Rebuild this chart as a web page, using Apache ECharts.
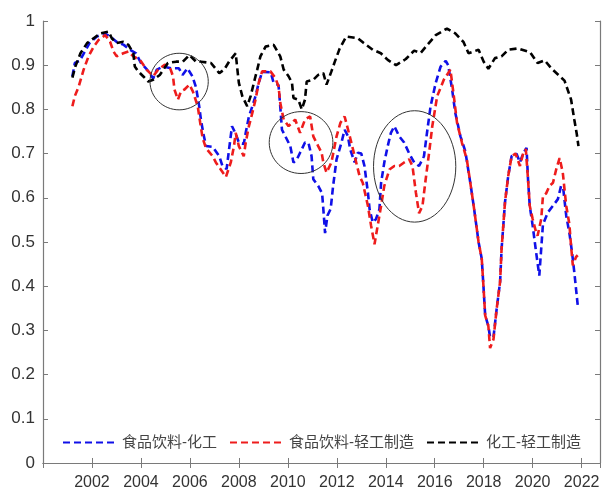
<!DOCTYPE html>
<html>
<head>
<meta charset="utf-8">
<script src="https://cdn.jsdelivr.net/npm/echarts@6/dist/echarts.min.js"></script>
<style>
  html, body { margin: 0; padding: 0; background: #fff; }
  #chart { width: 603px; height: 491px; }
</style>
</head>
<body>
<div id="chart"></div>
<script>
// 食品饮料-化工
const foodChem = [
  [2001.2,0.875],[2001.3,0.905],[2001.5,0.91],[2001.7,0.93],[2001.9,0.95],[2002.2,0.965],[2002.5,0.972],
  [2002.75,0.965],[2003.0,0.953],[2003.3,0.946],[2003.55,0.935],[2003.8,0.927],[2004.0,0.905],[2004.25,0.89],
  [2004.5,0.87],[2004.65,0.89],[2004.9,0.897],[2005.25,0.893],[2005.55,0.893],[2005.7,0.878],[2005.9,0.893],
  [2006.1,0.875],[2006.25,0.85],[2006.38,0.807],[2006.45,0.777],[2006.55,0.745],[2006.66,0.717],[2006.93,0.715],
  [2007.2,0.694],[2007.33,0.672],[2007.5,0.665],[2007.6,0.71],[2007.72,0.762],[2007.87,0.745],[2008.0,0.725],
  [2008.2,0.722],[2008.28,0.747],[2008.41,0.784],[2008.55,0.807],[2008.68,0.83],[2008.81,0.86],[2008.95,0.885],
  [2009.3,0.884],[2009.42,0.86],[2009.62,0.855],[2009.69,0.807],[2009.76,0.754],[2009.9,0.739],[2010.1,0.717],
  [2010.23,0.68],[2010.37,0.687],[2010.5,0.702],[2010.7,0.725],[2010.84,0.725],[2010.97,0.694],[2011.04,0.642],
  [2011.24,0.627],[2011.4,0.61],[2011.47,0.56],[2011.52,0.52],[2011.62,0.56],[2011.75,0.575],[2011.85,0.627],
  [2011.99,0.687],[2012.19,0.725],[2012.32,0.754],[2012.45,0.74],[2012.55,0.709],[2012.73,0.68],[2012.86,0.702],
  [2013.0,0.70],[2013.13,0.672],[2013.27,0.612],[2013.34,0.574],[2013.47,0.544],[2013.6,0.552],[2013.74,0.574],
  [2013.81,0.634],[2013.94,0.68],[2014.08,0.717],[2014.21,0.747],[2014.35,0.762],[2014.55,0.739],[2014.75,0.725],
  [2014.96,0.70],[2015.16,0.68],[2015.36,0.672],[2015.56,0.694],[2015.7,0.754],[2015.83,0.807],[2016.04,0.86],
  [2016.24,0.897],[2016.45,0.91],[2016.55,0.9],[2016.71,0.845],[2016.84,0.792],[2017.05,0.739],[2017.25,0.705],
  [2017.45,0.635],[2017.59,0.582],[2017.72,0.529],[2017.79,0.50],[2017.92,0.462],[2017.99,0.40],[2018.06,0.334],
  [2018.19,0.31],[2018.26,0.285],[2018.4,0.285],[2018.53,0.349],[2018.67,0.41],[2018.73,0.484],[2018.87,0.59],
  [2019.0,0.649],[2019.14,0.694],[2019.34,0.70],[2019.48,0.68],[2019.61,0.70],[2019.75,0.713],[2019.81,0.642],
  [2019.88,0.582],[2020.0,0.537],[2020.14,0.477],[2020.27,0.424],[2020.42,0.54],[2020.62,0.567],[2020.83,0.582],
  [2021.03,0.597],[2021.16,0.627],[2021.25,0.62],[2021.37,0.56],[2021.5,0.52],[2021.6,0.48],[2021.7,0.432],
  [2021.84,0.357]
];

// 食品饮料-轻工制造
const foodLight = [
  [2001.2,0.807],[2001.3,0.83],[2001.46,0.852],[2001.66,0.89],[2001.86,0.92],[2002.07,0.942],[2002.27,0.957],
  [2002.54,0.968],[2002.74,0.953],[2002.88,0.931],[2003.01,0.92],[2003.28,0.927],[2003.49,0.931],[2003.69,0.92],
  [2003.96,0.912],[2004.23,0.89],[2004.5,0.875],[2004.7,0.89],[2004.97,0.901],[2005.17,0.897],[2005.31,0.875],
  [2005.37,0.845],[2005.51,0.822],[2005.64,0.841],[2005.78,0.845],[2005.98,0.856],[2006.12,0.841],[2006.32,0.807],
  [2006.42,0.77],[2006.52,0.735],[2006.66,0.712],[2006.93,0.694],[2007.06,0.68],[2007.26,0.664],[2007.47,0.647],
  [2007.67,0.68],[2007.8,0.717],[2007.87,0.747],[2008.0,0.717],[2008.2,0.694],[2008.28,0.725],[2008.41,0.762],
  [2008.55,0.792],[2008.68,0.822],[2008.81,0.86],[2008.95,0.886],[2009.29,0.886],[2009.49,0.871],[2009.62,0.852],
  [2009.69,0.815],[2009.83,0.777],[2010.03,0.762],[2010.17,0.77],[2010.3,0.777],[2010.5,0.747],[2010.7,0.777],
  [2010.91,0.784],[2011.04,0.739],[2011.24,0.717],[2011.38,0.702],[2011.45,0.68],[2011.58,0.657],[2011.78,0.68],
  [2011.99,0.739],[2012.15,0.77],[2012.32,0.784],[2012.53,0.739],[2012.73,0.694],[2012.93,0.649],[2013.06,0.634],
  [2013.27,0.582],[2013.4,0.537],[2013.54,0.495],[2013.67,0.537],[2013.81,0.582],[2013.94,0.627],[2014.15,0.664],
  [2014.35,0.672],[2014.55,0.672],[2014.75,0.68],[2014.96,0.687],[2015.09,0.672],[2015.23,0.612],[2015.36,0.565],
  [2015.5,0.582],[2015.63,0.642],[2015.77,0.702],[2015.9,0.762],[2016.1,0.83],[2016.37,0.867],[2016.64,0.89],
  [2016.78,0.83],[2016.91,0.77],[2017.11,0.725],[2017.31,0.687],[2017.45,0.635],[2017.59,0.582],[2017.72,0.529],
  [2017.79,0.50],[2017.92,0.462],[2017.99,0.40],[2018.06,0.334],[2018.19,0.31],[2018.26,0.26],[2018.4,0.28],
  [2018.53,0.349],[2018.67,0.41],[2018.73,0.484],[2018.87,0.59],[2019.0,0.649],[2019.14,0.694],[2019.3,0.70],
  [2019.48,0.672],[2019.61,0.70],[2019.72,0.71],[2019.81,0.642],[2019.88,0.582],[2020.0,0.552],[2020.14,0.522],
  [2020.2,0.514],[2020.35,0.552],[2020.42,0.604],[2020.55,0.61],[2020.69,0.627],[2020.83,0.634],[2020.96,0.664],
  [2021.1,0.69],[2021.23,0.657],[2021.37,0.582],[2021.5,0.54],[2021.57,0.49],[2021.64,0.447],[2021.77,0.466],
  [2021.84,0.47]
];

// 化工-轻工制造
const chemLight = [
  [2001.2,0.872],[2001.32,0.897],[2001.53,0.927],[2001.8,0.95],[2002.07,0.961],[2002.34,0.972],[2002.68,0.976],
  [2002.81,0.961],[2003.01,0.95],[2003.28,0.953],[2003.49,0.946],[2003.69,0.927],[2003.75,0.897],[2003.89,0.886],
  [2004.09,0.875],[2004.3,0.863],[2004.5,0.867],[2004.77,0.878],[2005.1,0.905],[2005.44,0.908],[2005.71,0.908],
  [2005.98,0.923],[2006.25,0.908],[2006.45,0.908],[2006.86,0.905],[2007.2,0.882],[2007.4,0.89],[2007.6,0.908],
  [2007.87,0.927],[2007.94,0.89],[2008.0,0.86],[2008.14,0.83],[2008.34,0.807],[2008.48,0.83],[2008.68,0.875],
  [2008.75,0.89],[2008.88,0.92],[2009.09,0.942],[2009.42,0.946],[2009.69,0.92],[2009.83,0.89],[2010.03,0.875],
  [2010.17,0.86],[2010.23,0.826],[2010.43,0.822],[2010.57,0.80],[2010.7,0.822],[2010.77,0.863],[2011.04,0.867],
  [2011.24,0.878],[2011.45,0.882],[2011.58,0.856],[2011.78,0.886],[2011.92,0.908],[2012.12,0.938],[2012.39,0.965],
  [2012.86,0.961],[2013.1,0.95],[2013.47,0.935],[2013.8,0.927],[2014.08,0.912],[2014.42,0.90],[2014.82,0.914],
  [2015.16,0.933],[2015.43,0.928],[2015.7,0.946],[2016.04,0.968],[2016.5,0.983],[2016.84,0.972],[2017.18,0.952],
  [2017.38,0.927],[2017.79,0.935],[2018.0,0.908],[2018.19,0.892],[2018.46,0.916],[2018.73,0.92],[2019.0,0.935],
  [2019.4,0.938],[2019.9,0.929],[2020.2,0.905],[2020.49,0.911],[2020.76,0.893],[2021.3,0.865],[2021.57,0.822],
  [2021.7,0.777],[2021.8,0.745],[2021.87,0.717]
];

const seriesNames = ["食品饮料-化工", "食品饮料-轻工制造", "化工-轻工制造"];
const yTicks = [0, 0.1, 0.2, 0.3, 0.4, 0.5, 0.6, 0.7, 0.8, 0.9, 1];

// highlighted regions: [centre year, centre value, half-width in years, half-height in value]
const marks = [
  [2005.56, 0.863, 1.19, 0.064],
  [2010.54, 0.725, 1.30, 0.070],
  [2015.18, 0.671, 1.68, 0.126]
];

const chart = echarts.init(document.getElementById("chart"));
const font = "'Liberation Sans', Arial, 'Noto Sans CJK SC', sans-serif";
const axisColor = "#7a7a7a";

function lineSeries(name, data, color) {
  return {
    name: name,
    type: "line",
    data: data,
    symbol: "none",
    lineStyle: { color: color, width: 2.6, type: [7, 4] },
    itemStyle: { color: color },
    z: 3
  };
}

const option = {
  animation: false,
  backgroundColor: "#fff",
  textStyle: { fontFamily: font },
  grid: { left: 43, top: 21, right: 1, bottom: 26 },
  legend: {
    left: 57,
    top: 430,
    itemWidth: 54,
    itemHeight: 14,
    itemGap: 12,
    data: seriesNames,
    itemStyle: { opacity: 0 },
    textStyle: { fontSize: 15, color: "#444", fontFamily: font }
  },
  xAxis: [
    {
      type: "value",
      min: 2000,
      max: 2022.75,
      interval: 2,
      axisLine: { lineStyle: { color: axisColor, width: 1.2 } },
      axisTick: { inside: true, length: 5, lineStyle: { color: axisColor } },
      axisLabel: {
        fontSize: 16, color: "#333", margin: 12,
        formatter: v => (v > 2000 && v % 2 === 0 ? String(v) : "")
      },
      splitLine: { show: false }
    },
    {
      type: "value",
      position: "top",
      min: 2000,
      max: 2022.75,
      interval: 2,
      axisLine: { lineStyle: { color: axisColor, width: 1.2 } },
      axisTick: { inside: true, length: 5, lineStyle: { color: axisColor } },
      axisLabel: { show: false },
      splitLine: { show: false }
    }
  ],
  yAxis: [
    {
      type: "value",
      min: 0,
      max: 1,
      interval: 0.1,
      axisLine: { show: true, lineStyle: { color: axisColor, width: 1.2 } },
      axisTick: { show: true, inside: true, length: 5, lineStyle: { color: axisColor } },
      axisLabel: {
        fontSize: 17, color: "#333", margin: 8,
        formatter: v => {
          const t = yTicks.find(k => Math.abs(k - v) < 1e-6);
          if (t === undefined) return "";
          return t === 0 || t === 1 ? String(t) : t.toFixed(1);
        }
      },
      splitLine: { show: false }
    },
    {
      type: "value",
      position: "right",
      min: 0,
      max: 1,
      interval: 0.1,
      axisLine: { show: true, lineStyle: { color: axisColor, width: 1.2 } },
      axisTick: { show: true, inside: true, length: 5, lineStyle: { color: axisColor } },
      axisLabel: { show: false },
      splitLine: { show: false }
    }
  ],
  series: [
    lineSeries(seriesNames[0], foodChem, "#1010e8"),
    lineSeries(seriesNames[1], foodLight, "#ee1c1c"),
    lineSeries(seriesNames[2], chemLight, "#000000")
  ]
};

chart.setOption(option);

// draw the annotation ellipses in data coordinates
const ellipses = marks.map(m => {
  const c = chart.convertToPixel({ gridIndex: 0 }, [m[0], m[1]]);
  const e = chart.convertToPixel({ gridIndex: 0 }, [m[0] + m[2], m[1] - m[3]]);
  return {
    type: "ellipse",
    shape: { cx: c[0], cy: c[1], rx: Math.abs(e[0] - c[0]), ry: Math.abs(e[1] - c[1]) },
    style: { fill: null, stroke: "#333", lineWidth: 1 },
    z: 10
  };
});
chart.setOption({ graphic: ellipses });
</script>
</body>
</html>
